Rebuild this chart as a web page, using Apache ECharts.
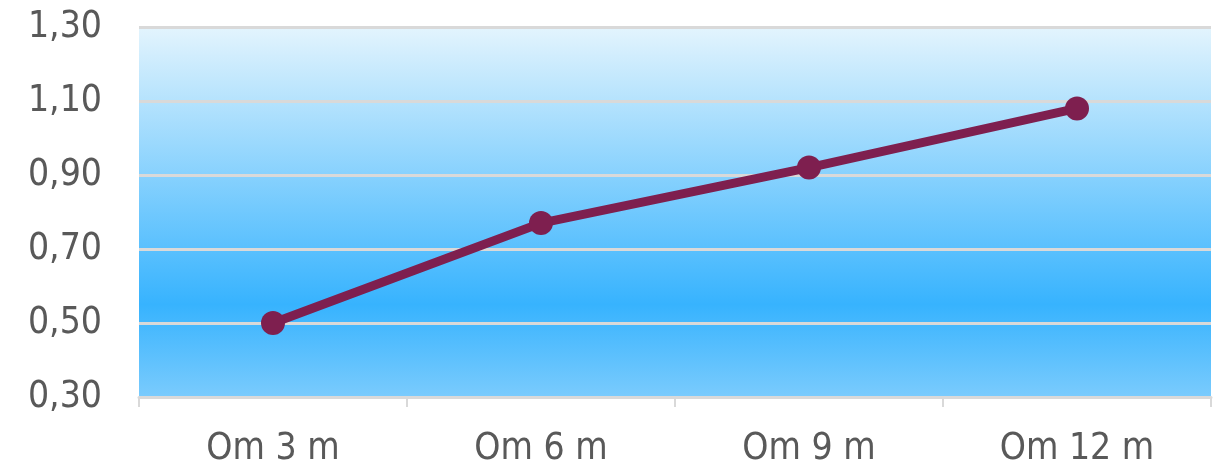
<!DOCTYPE html>
<html>
<head>
<meta charset="utf-8">
<script src="https://cdn.jsdelivr.net/npm/echarts@6/dist/echarts.min.js"></script>
<style>
  html, body { margin: 0; padding: 0; background: #fff; }
  #chart { width: 1214px; height: 466px; }
</style>
</head>
<body>
<div id="chart"></div>
<script>
// data
var categories = ["Om 3 m", "Om 6 m", "Om 9 m", "Om 12 m"];
var values = [0.50, 0.77, 0.92, 1.08];
var yMin = 0.3, yMax = 1.3, yStep = 0.2;

var myChart = echarts.init(document.getElementById("chart"));
var font = "DejaVu Sans Condensed";

myChart.setOption({
  animation: false,
  grid: {
    left: 139,
    right: 3,
    top: 27,
    bottom: 69,
    outerBoundsMode: "none",
    show: true,
    borderWidth: 0,
    backgroundColor: new echarts.graphic.LinearGradient(0, 0, 0, 1, [
      { offset: 0, color: "#e3f4fd" },
      { offset: 0.75, color: "#37b3fe" },
      { offset: 1, color: "#7acbfd" },
    ]),
  },
  xAxis: {
    type: "category",
    data: categories,
    boundaryGap: true,
    axisLine: { show: true, lineStyle: { color: "#d9d9d9", width: 3 } },
    axisTick: { show: true, length: 10, lineStyle: { color: "#d9d9d9", width: 2 } },
    axisLabel: { color: "#595959", fontFamily: font, fontSize: 37, margin: 34 },
  },
  yAxis: {
    type: "value",
    min: yMin,
    max: yMax,
    interval: yStep,
    axisLine: { show: false },
    axisTick: { show: false },
    splitLine: { show: true, lineStyle: { color: "#d9d9d9", width: 3 } },
    axisLabel: {
      color: "#595959",
      fontFamily: font,
      fontSize: 37,
      margin: 37,
      formatter: function (v) {
        return v.toFixed(2).replace(".", ",");
      },
    },
  },
  series: [
    {
      type: "line",
      data: values,
      symbol: "circle",
      symbolSize: 24,
      lineStyle: { color: "#7e1f4f", width: 9 },
      itemStyle: { color: "#7e1f4f" },
    },
  ],
});
</script>
</body>
</html>
